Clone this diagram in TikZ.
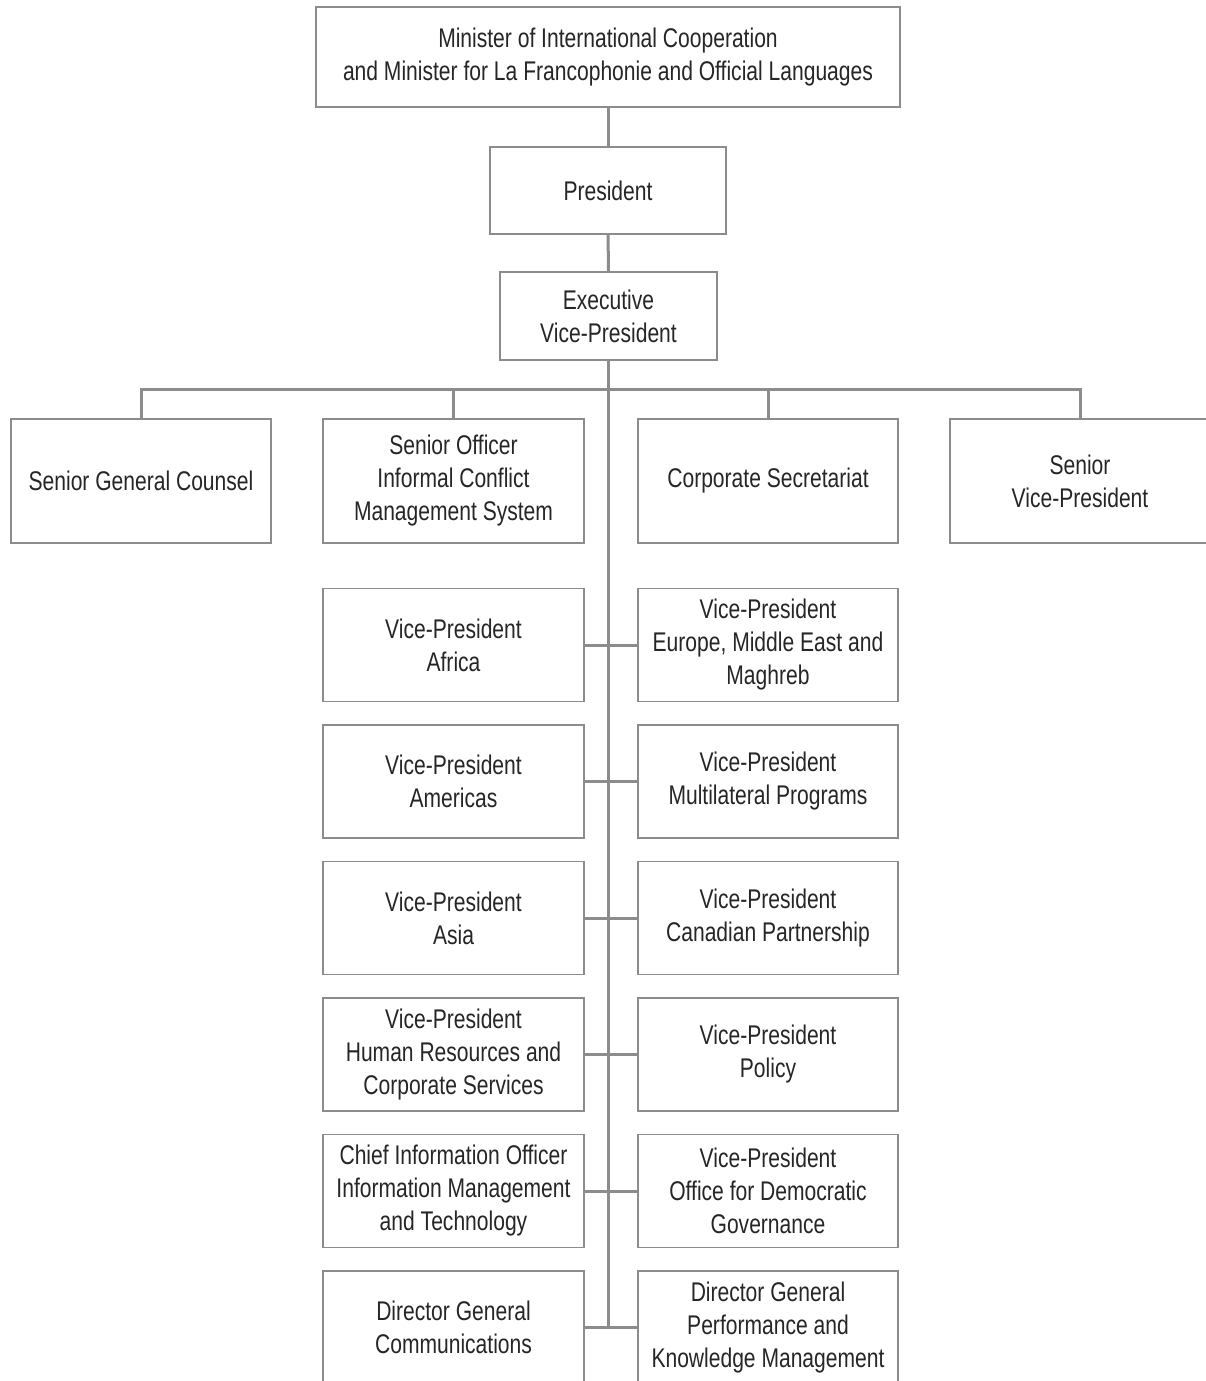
\documentclass[tikz,border=0pt]{standalone}
\usepackage{fontspec}
\setmainfont{Liberation Sans}[FakeStretch=0.78]
\tikzset{
  box/.style 2 args={draw=black!45, line width=1.2pt, fill=white, align=center,
    text=black!85, inner sep=0pt, minimum width=#1, minimum height=#2,
    font=\fontsize{27}{33}\selectfont},
  link/.style={draw=black!45, line width=3pt}
}
\begin{document}
\begin{tikzpicture}[x=1pt,y=-1pt]
\useasboundingbox (0,0) rectangle (1206,1381);
\clip (0,0) rectangle (1206,1381);

\pgfmathsetmacro{\xl}{453.5};
\pgfmathsetmacro{\xr}{768};
\pgfmathsetmacro{\yt}{645};
\pgfmathsetmacro{\dy}{136.5};

% top of the chart
\node[box={584}{100}] (minister) at (608,57)
  {Minister of International Cooperation\\and Minister for La Francophonie and Official Languages};
\node[box={236}{87}] (pres) at (608,190.5) {President};
\node[box={217}{88}] (evp) at (608.5,316) {Executive\\Vice-President};

% first level
\node[box={260}{124}] (sgc) at (141,481) {Senior General Counsel};
\node[box={261}{124}] (icms) at (\xl,481) {Senior Officer\\Informal Conflict\\Management System};
\node[box={260}{124}] (corpsec) at (\xr,481) {Corporate Secretariat};
\node[box={260}{124}] (svp) at (1080,481) {Senior\\Vice-President};

% vice-presidents
\node[box={261}{113}] (vpafr) at (\xl,\yt) {Vice-President\\Africa};
\node[box={260}{113}] (vpeur) at (\xr,\yt) {Vice-President\\Europe, Middle East and\\Maghreb};
\node[box={261}{113}] (vpame) at (\xl,\yt+\dy) {Vice-President\\Americas};
\node[box={260}{113}] (vpmul) at (\xr,\yt+\dy) {Vice-President\\Multilateral Programs};
\node[box={261}{113}] (vpasi) at (\xl,\yt+2*\dy) {Vice-President\\Asia};
\node[box={260}{113}] (vpcan) at (\xr,\yt+2*\dy) {Vice-President\\Canadian Partnership};
\node[box={261}{113}] (vphr) at (\xl,\yt+3*\dy) {Vice-President\\Human Resources and\\Corporate Services};
\node[box={260}{113}] (vppol) at (\xr,\yt+3*\dy) {Vice-President\\Policy};
\node[box={261}{113}] (cio) at (\xl,\yt+4*\dy) {Chief Information Officer\\Information Management\\and Technology};
\node[box={260}{113}] (vpdem) at (\xr,\yt+4*\dy) {Vice-President\\Office for Democratic\\Governance};
\node[box={261}{113}] (dgcom) at (\xl,\yt+5*\dy) {Director General\\Communications};
\node[box={260}{113}] (dgpkm) at (\xr,\yt+5*\dy) {Director General\\Performance and\\Knowledge Management};

\coordinate (bar) at (609,389);

\draw[link] (minister) -- (pres);
\draw[link] (pres) -- (evp);
\draw[link] (sgc.north) |- (bar);
\draw[link] (icms.north) |- (bar);
\draw[link] (corpsec.north) |- (bar);
\draw[link] (svp.north) |- (bar);
\draw[link] (evp.south) -- (evp.south |- dgcom.east);

\draw[link] (vpafr.east) -- (vpeur.west);
\draw[link] (vpame.east) -- (vpmul.west);
\draw[link] (vpasi.east) -- (vpcan.west);
\draw[link] (vphr.east) -- (vppol.west);
\draw[link] (cio.east) -- (vpdem.west);
\draw[link] (dgcom.east) -- (dgpkm.west);
\end{tikzpicture}
\end{document}
